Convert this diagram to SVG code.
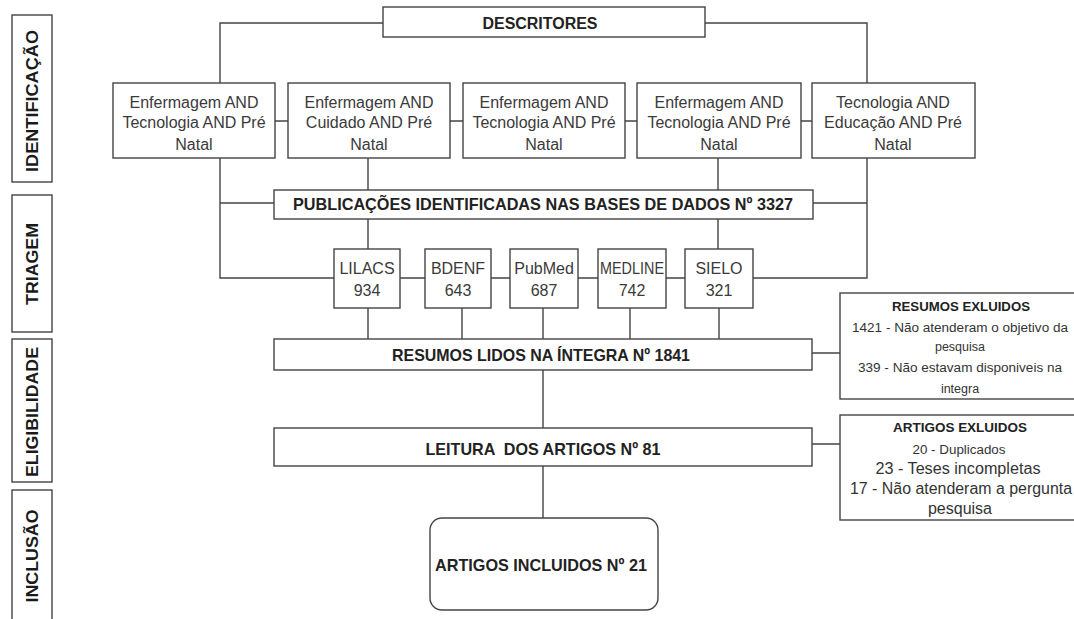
<svg xmlns="http://www.w3.org/2000/svg" width="1074" height="619" viewBox="0 0 1074 619">
<style>
.box{fill:#fff;stroke:#444;stroke-width:1.4}
.ln{fill:none;stroke:#444;stroke-width:1.4}
.t{font-family:"Liberation Sans",Arial,sans-serif;font-size:16px;fill:#3a3a3a;text-anchor:middle}
.b{font-family:"Liberation Sans",Arial,sans-serif;font-weight:bold;fill:#222;text-anchor:middle}
.ph{font-family:"Liberation Sans",Arial,sans-serif;font-weight:bold;font-size:17px;fill:#1a1a1a;text-anchor:middle}
.s{font-family:"Liberation Sans",Arial,sans-serif;fill:#333;text-anchor:middle}
</style>
<rect width="1074" height="619" fill="#fff"/>
<g id="phases">
<g id="ph-ident"><rect class="box" x="12" y="15" width="40" height="167"/><text class="ph" transform="translate(38,101) rotate(-90)" textLength="142" lengthAdjust="spacingAndGlyphs">IDENTIFICAÇÃO</text></g>
<g id="ph-triagem"><rect class="box" x="12" y="195" width="40" height="137"/><text class="ph" transform="translate(38,264) rotate(-90)" textLength="82" lengthAdjust="spacingAndGlyphs">TRIAGEM</text></g>
<g id="ph-eleg"><rect class="box" x="12" y="339" width="40" height="143"/><text class="ph" transform="translate(38,412) rotate(-90)" textLength="130" lengthAdjust="spacingAndGlyphs">ELIGIBILIDADE</text></g>
<g id="ph-incl"><rect class="box" x="12" y="490" width="40" height="140"/><text class="ph" transform="translate(38,556) rotate(-90)" textLength="93" lengthAdjust="spacingAndGlyphs">INCLUSÃO</text></g>
</g>
<g id="connectors">
<path class="ln" d="M383 23 H220 V83 M705 23 H867 V83"/>
<path class="ln" d="M275 121 H288 M450 121 H463 M625 121 H637 M801 121 H812"/>
<path class="ln" d="M220 158 V278 H334 M867 158 V278 H753"/>
<path class="ln" d="M220 203 H274 M867 203 H813"/>
<path class="ln" d="M368 158 V190 M718 158 V190"/>
<path class="ln" d="M368 219 V249 M718 219 V249"/>
<path class="ln" d="M400 278 H425 M491 278 H510 M578 278 H598 M666 278 H685"/>
<path class="ln" d="M368 308 V339 M462 308 V339 M543 308 V339 M630 308 V339 M719 308 V339"/>
<path class="ln" d="M543 370 V428 M543 466 V518"/>
<path class="ln" d="M812 353 H840 M812 444 H840"/>
</g>
<g id="descritores"><rect class="box" x="383" y="7" width="322" height="30"/><text class="b" x="540" y="29" font-size="16" textLength="115" lengthAdjust="spacingAndGlyphs">DESCRITORES</text></g>
<g id="d1"><rect class="box" x="113" y="83" width="162" height="75"/><text class="t" x="194" y="107.5">Enfermagem AND</text><text class="t" x="194" y="128">Tecnologia AND Pré</text><text class="t" x="194" y="149.5">Natal</text></g>
<g id="d2"><rect class="box" x="288" y="83" width="162" height="75"/><text class="t" x="369" y="107.5">Enfermagem AND</text><text class="t" x="369" y="128">Cuidado AND Pré</text><text class="t" x="369" y="149.5">Natal</text></g>
<g id="d3"><rect class="box" x="463" y="83" width="162" height="75"/><text class="t" x="544" y="107.5">Enfermagem AND</text><text class="t" x="544" y="128">Tecnologia AND Pré</text><text class="t" x="544" y="149.5">Natal</text></g>
<g id="d4"><rect class="box" x="637" y="83" width="164" height="75"/><text class="t" x="719" y="107.5">Enfermagem AND</text><text class="t" x="719" y="128">Tecnologia AND Pré</text><text class="t" x="719" y="149.5">Natal</text></g>
<g id="d5"><rect class="box" x="812" y="83" width="163" height="75"/><text class="t" x="893" y="107.5">Tecnologia AND</text><text class="t" x="893" y="128">Educação AND Pré</text><text class="t" x="893" y="149.5">Natal</text></g>
<g id="publicacoes"><rect class="box" x="274" y="190" width="539" height="29"/><text class="b" x="543" y="210" font-size="17" textLength="500" lengthAdjust="spacingAndGlyphs">PUBLICAÇÕES IDENTIFICADAS NAS BASES DE DADOS Nº 3327</text></g>
<g id="lilacs"><rect class="box" x="334" y="249" width="66" height="59"/><text class="t" x="367" y="274">LILACS</text><text class="t" x="367" y="296">934</text></g>
<g id="bdenf"><rect class="box" x="425" y="249" width="66" height="59"/><text class="t" x="458" y="274">BDENF</text><text class="t" x="458" y="296">643</text></g>
<g id="pubmed"><rect class="box" x="510" y="249" width="68" height="59"/><text class="t" x="544" y="274">PubMed</text><text class="t" x="544" y="296">687</text></g>
<g id="medline"><rect class="box" x="598" y="249" width="68" height="59"/><text class="t" x="632" y="274" textLength="64" lengthAdjust="spacingAndGlyphs">MEDLINE</text><text class="t" x="632" y="296">742</text></g>
<g id="sielo"><rect class="box" x="685" y="249" width="68" height="59"/><text class="t" x="719" y="274">SIELO</text><text class="t" x="719" y="296">321</text></g>
<g id="resumos"><rect class="box" x="274" y="339" width="538" height="31"/><text class="b" x="541" y="361" font-size="17" textLength="298" lengthAdjust="spacingAndGlyphs">RESUMOS LIDOS NA ÍNTEGRA Nº 1841</text></g>
<g id="resumos-excl"><rect class="box" x="840" y="293" width="245" height="106"/><text class="b" x="961" y="311" font-size="12" textLength="138" lengthAdjust="spacingAndGlyphs">RESUMOS EXLUIDOS</text><text class="s" x="960" y="332" font-size="12.5" textLength="216" lengthAdjust="spacingAndGlyphs">1421 - Não atenderam o objetivo da</text><text class="s" x="960" y="351" font-size="12.5">pesquisa</text><text class="s" x="960" y="372" font-size="12.5" textLength="204" lengthAdjust="spacingAndGlyphs">339 - Não estavam disponiveis na</text><text class="s" x="960" y="393" font-size="12.5">integra</text></g>
<g id="leitura"><rect class="box" x="274" y="428" width="538" height="38"/><text class="b" x="543" y="455" font-size="17" textLength="235" lengthAdjust="spacingAndGlyphs" style="white-space:pre">LEITURA  DOS ARTIGOS Nº 81</text></g>
<g id="artigos-excl"><rect class="box" x="840" y="415" width="245" height="105"/><text class="b" x="960" y="432" font-size="12" textLength="134" lengthAdjust="spacingAndGlyphs">ARTIGOS EXLUIDOS</text><text class="s" x="959" y="454" font-size="12.5" textLength="93" lengthAdjust="spacingAndGlyphs">20 - Duplicados</text><text class="s" x="958" y="474" font-size="16" textLength="165" lengthAdjust="spacingAndGlyphs">23 - Teses incompletas</text><text class="s" x="961" y="494" font-size="16" textLength="222" lengthAdjust="spacingAndGlyphs">17 - Não atenderam a pergunta</text><text class="s" x="960" y="514" font-size="16">pesquisa</text></g>
<g id="incluidos"><rect class="box" x="430" y="518" width="228" height="92" rx="12"/><text class="b" x="541" y="571" font-size="17" textLength="212" lengthAdjust="spacingAndGlyphs">ARTIGOS INCLUIDOS Nº 21</text></g>
</svg>
